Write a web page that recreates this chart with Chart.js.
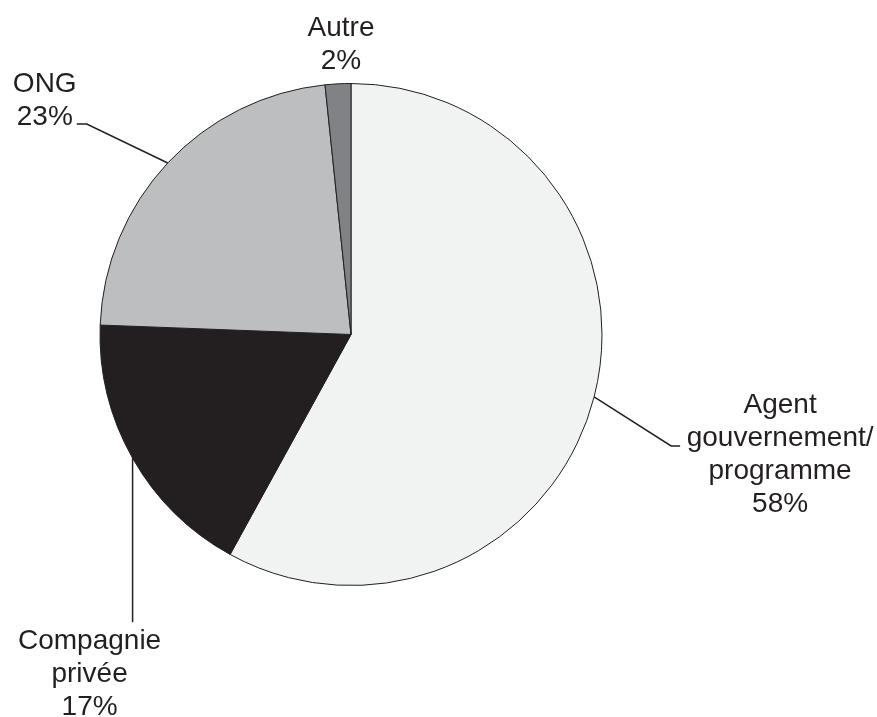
<!DOCTYPE html>
<html>
<head>
<meta charset="utf-8">
<script src="https://cdn.jsdelivr.net/npm/chart.js"></script>
<style>
    html, body { margin: 0; padding: 0; background: #ffffff; }
    #wrap { width: 877px; height: 717px; }
</style>
</head>
<body>
<div id="wrap"><canvas id="chart" width="877" height="717"></canvas></div>
<script>
// data
let categories = ["Agent gouvernement/ programme", "Compagnie privée", "ONG", "Autre"]
let labelLines = [["Agent", "gouvernement/", "programme"], ["Compagnie", "privée"], ["ONG"], ["Autre"]]
let percentLabels = ["58%", "17%", "23%", "2%"]
let shares = [58.0, 17.6, 22.75, 1.65]
let sliceColors = ["#f1f2f2", "#231f20", "#bcbec0", "#808285"]

// callout layout: elbow offset from slice edge, short tick, text offset from line end
let callouts = [
    {elbow: [77, 49], tick: 9, text: [100, -33]},
    {elbow: [0, 164], tick: 0, text: [-43, 27]},
    {elbow: [-81, -39], tick: -10, text: [-32, -32]},
    {elbow: null, tick: 0, text: [3, -48]},
]

const INK = "#231f20"
const FONT = '28px "Liberation Sans", Arial, sans-serif'
const LINE_H = 33

const calloutPlugin = {
    id: "callouts",
    afterDraw(chart) {
        const ctx = chart.ctx
        const meta = chart.getDatasetMeta(0)
        ctx.save()
        ctx.font = FONT
        ctx.fillStyle = INK
        ctx.strokeStyle = INK
        ctx.lineWidth = 1.5
        ctx.textAlign = "center"
        ctx.textBaseline = "alphabetic"
        meta.data.forEach((arc, i) => {
            let {x, y, startAngle, endAngle, outerRadius} = arc.getProps(["x", "y", "startAngle", "endAngle", "outerRadius"], true)
            let mid = (startAngle + endAngle) / 2
            let px = x + Math.cos(mid) * outerRadius
            let py = y + Math.sin(mid) * outerRadius
            let c = callouts[i]
            let ex = px, ey = py
            if (c.elbow) {
                let bx = px + c.elbow[0], by = py + c.elbow[1]
                ex = bx + c.tick
                ey = by
                ctx.beginPath()
                ctx.moveTo(px, py)
                ctx.lineTo(bx, by)
                ctx.lineTo(ex, ey)
                ctx.stroke()
            }
            let lines = labelLines[i].concat([percentLabels[i]])
            let tx = ex + c.text[0]
            let ty = ey + c.text[1]
            lines.forEach((line, k) => {
                ctx.fillText(line, tx, ty + k * LINE_H)
            })
        })
        ctx.restore()
    }
}

new Chart(document.getElementById("chart"), {
    type: "pie",
    data: {
        labels: categories,
        datasets: [{
            data: shares,
            backgroundColor: sliceColors,
            borderColor: INK,
            borderWidth: 1,
        }]
    },
    options: {
        responsive: false,
        animation: false,
        radius: 251,
        layout: {
            padding: {left: 0, right: 175, top: 0, bottom: 48}
        },
        plugins: {
            legend: {display: false},
            tooltip: {enabled: false},
        },
    },
    plugins: [calloutPlugin]
})
</script>
</body>
</html>
